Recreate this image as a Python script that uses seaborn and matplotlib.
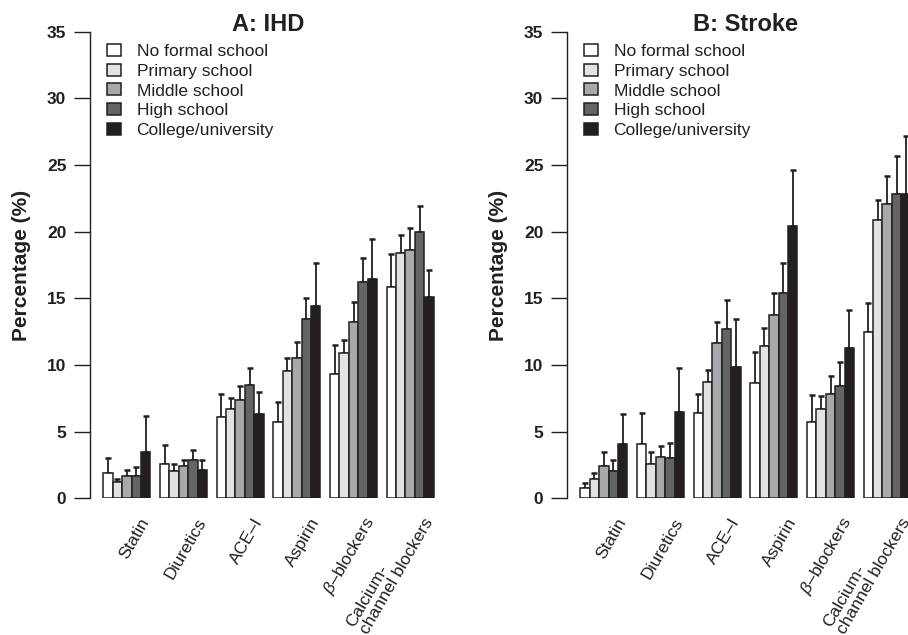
import matplotlib
matplotlib.use("Agg")
import matplotlib.pyplot as plt
import matplotlib.transforms as mtransforms
import numpy as np
import pandas as pd
import seaborn as sns

# ---------------- data ----------------
drugs = ["Statin", "Diuretics", "ACE–I", "Aspirin", "β–blockers", "CCB"]
drug_labels = ["Statin", "Diuretics", "ACE–I", "Aspirin", r"$\beta$–blockers",
               "Calcium-\nchannel blockers"]
education = ["No formal school", "Primary school", "Middle school",
             "High school", "College/university"]

# IHD: rows = drugs, cols = education levels
ihd_pct = [
    [1.9, 1.2, 1.65, 1.65, 3.5],
    [2.6, 2.05, 2.4, 2.85, 2.15],
    [6.1, 6.7, 7.4, 8.5, 6.35],
    [5.7, 9.55, 10.55, 13.45, 14.45],
    [9.35, 10.9, 13.25, 16.2, 16.45],
    [15.85, 18.4, 18.65, 19.95, 15.1],
]
ihd_upper = [
    [3.0, 1.45, 2.15, 2.35, 6.15],
    [4.0, 2.6, 2.9, 3.6, 2.85],
    [7.8, 7.55, 8.4, 9.8, 7.95],
    [7.2, 10.55, 11.7, 15.05, 17.65],
    [11.5, 11.9, 14.7, 18.0, 19.45],
    [18.3, 19.75, 20.25, 21.9, 17.15],
]
stroke_pct = [
    [0.75, 1.45, 2.45, 2.05, 4.1],
    [4.05, 2.6, 3.1, 3.05, 6.5],
    [6.4, 8.7, 11.65, 12.7, 9.85],
    [8.65, 11.45, 13.75, 15.4, 20.4],
    [5.7, 6.7, 7.8, 8.4, 11.3],
    [12.45, 20.85, 22.05, 22.85, 22.8],
]
stroke_upper = [
    [1.15, 1.9, 3.45, 2.9, 6.3],
    [6.4, 3.45, 3.95, 4.15, 9.75],
    [7.85, 9.65, 13.25, 14.9, 13.45],
    [10.95, 12.8, 15.4, 17.65, 24.6],
    [7.75, 7.65, 9.15, 10.25, 14.15],
    [14.65, 22.4, 24.15, 25.7, 27.2],
]
yticks = [0, 5, 10, 15, 20, 25, 30, 35]
panel_titles = ["A: IHD", "B: Stroke"]

colors = ["#ffffff", "#e1e2e4", "#a7a9ac", "#636466", "#231f20"]
dark = "#231f20"

# ---------------- style ----------------
sns.set_style("white")
plt.rcParams["font.family"] = ["Liberation Sans", "DejaVu Sans"]
plt.rcParams["mathtext.fontset"] = "custom"
plt.rcParams["mathtext.it"] = "Liberation Sans:italic"
plt.rcParams["mathtext.rm"] = "Liberation Sans"

W, H = 908, 635
fig = plt.figure(figsize=(W / 100, H / 100), dpi=100)

y0_px, y35_px = 498.3, 31.7
ax_h = (y0_px - y35_px) / H
ax_b = (H - y0_px) / H
ax_w = 357 / W
lefts = [90 / W, 567 / W]

def make_df(pct, upper):
    rows = []
    for i, d in enumerate(drugs):
        for j, e in enumerate(education):
            rows.append({"drug": d, "edu": e, "pct": pct[i][j], "upper": upper[i][j],
                         "xpos": i + (j - 2) / 6})
    return pd.DataFrame(rows)

datasets = [make_df(ihd_pct, ihd_upper), make_df(stroke_pct, stroke_upper)]

for k, (df, left) in enumerate(zip(datasets, lefts)):
    ax = fig.add_axes([left, ax_b, ax_w, ax_h])
    sns.barplot(data=df, x="drug", y="pct", hue="edu", order=drugs,
                hue_order=education, palette=dict(zip(education, colors)),
                width=5 / 6, edgecolor=dark, linewidth=1.1, errorbar=None,
                saturation=1, ax=ax, zorder=3)
    ax.errorbar(df["xpos"], df["pct"],
                yerr=[np.zeros(len(df)), df["upper"] - df["pct"]],
                fmt="none", ecolor=dark, elinewidth=1.3, capsize=2.3,
                capthick=1.8, zorder=2)
    ax.set_xlim(-0.65, 5.65)
    ax.set_ylim(0, 35)
    ax.set_xticks([])
    ax.set_xlabel("")
    ax.set_yticks(yticks)
    ax.set_yticklabels([str(t) for t in yticks], fontsize=12.5, fontweight="bold")
    ax.tick_params(axis="y", direction="out", length=11.5, width=1.0,
                   pad=5.5, color=dark, labelcolor=dark, left=True)
    ax.set_ylabel("")
    for s in ["top", "right", "bottom"]:
        ax.spines[s].set_visible(False)
    ax.spines["left"].set_color(dark)
    ax.spines["left"].set_linewidth(1.0)
    ax.grid(False)
    ax.set_facecolor("none")
    ax.patch.set_alpha(0)

    # x category labels (rotated)
    trans = mtransforms.blended_transform_factory(ax.transData, ax.transAxes)
    off = mtransforms.offset_copy(trans, fig=fig, x=0, y=-25 * 0.72, units="points")
    for i, lab in enumerate(drug_labels):
        ax.text(i + 0.45, 0, lab, transform=off, rotation=60,
                rotation_mode="anchor", ha="right", va="bottom",
                multialignment="left", fontsize=12.5, color=dark,
                linespacing=1.0)

    # legend
    handles, labels = ax.get_legend_handles_labels()
    if ax.get_legend() is not None:
        ax.get_legend().remove()
    fig.legend(handles, labels, loc="upper left",
               bbox_to_anchor=((left * W + 16.7) / W, 1 - 44 / H),
               frameon=False, fontsize=12.5, handlelength=0.82,
               handleheight=0.68, handletextpad=0.9, labelspacing=0.27,
               borderpad=0, borderaxespad=0, labelcolor=dark)

    # title
    fig.text(left + ax_w / 2, 1 - 31 / H, panel_titles[k], ha="center",
             va="baseline", fontsize=17, fontweight="bold", color=dark)
    # y label
    fig.text((left * W - 68) / W, (ax_b + ax_h / 2), "Percentage (%)",
             rotation=90, ha="center", va="center", fontsize=15,
             fontweight="bold", color=dark)

fig.savefig("out.png", dpi=100)
